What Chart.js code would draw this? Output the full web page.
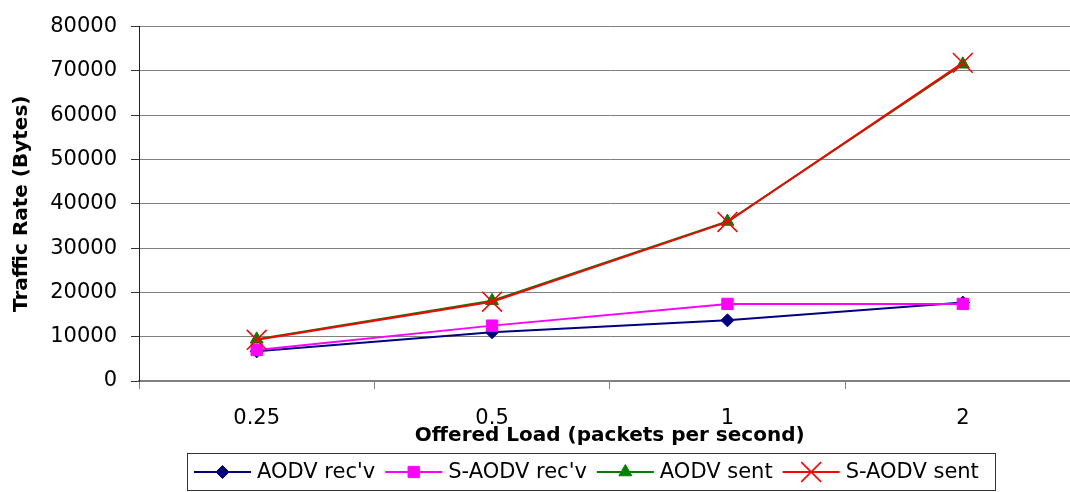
<!DOCTYPE html>
<html>
<head>
<meta charset="utf-8">
<script src="https://cdn.jsdelivr.net/npm/chart.js@4/dist/chart.umd.min.js"></script>
<style>
  html, body { margin: 0; padding: 0; background: #fff; overflow: hidden; }
  #wrap { width: 1096px; height: 492px; }
</style>
</head>
<body>
<div id="wrap"><canvas id="grafico" width="1096" height="492"></canvas></div>
<script>
// categorias e series
const cargas = ["0.25", "0.5", "1", "2"];
const aodvRecv = [6700, 11000, 13700, 17700];
const saodvRecv = [7000, 12500, 17400, 17400];
const aodvSent = [9400, 18100, 36000, 71500];
const saodvSent = [9300, 17900, 35900, 71800];
const nomes = ["AODV rec'v", "S-AODV rec'v", "AODV sent", "S-AODV sent"];

Chart.defaults.font.family = "'DejaVu Sans', sans-serif";
Chart.defaults.color = "#000";

// legenda desenhada no rodape, com linha + marcador
const legendaBox = {
  id: "legendaBox",
  afterDraw(chart) {
    const ctx = chart.ctx;
    ctx.save();
    ctx.strokeStyle = "#333";
    ctx.lineWidth = 1;
    ctx.strokeRect(187.5, 453.5, 808, 37);
    ctx.font = "21px 'DejaVu Sans'";
    ctx.textBaseline = "middle";
    let x = 194;
    const y = 472;
    chart.data.datasets.forEach(ds => {
      ctx.strokeStyle = ds.borderColor;
      ctx.lineWidth = 2;
      ctx.beginPath();
      ctx.moveTo(x, y);
      ctx.lineTo(x + 57, y);
      ctx.stroke();
      ctx.fillStyle = ds.pointBackgroundColor;
      ctx.strokeStyle = ds.pointBorderColor;
      ctx.lineWidth = ds.pointBorderWidth;
      Chart.helpers.drawPoint(ctx, {
        pointStyle: ds.pointStyle,
        radius: ds.pointRadius,
        rotation: 0,
        borderWidth: ds.pointBorderWidth
      }, x + 28.5, y);
      ctx.fillStyle = "#000";
      ctx.fillText(ds.label, x + 63, y + 1);
      x += 63 + ctx.measureText(ds.label).width + 10;
    });
    ctx.restore();
  }
};

const ctx = document.getElementById("grafico").getContext("2d");

new Chart(ctx, {
  type: "line",
  data: {
    labels: cargas,
    datasets: [
      {
        label: nomes[0], data: aodvRecv, order: 4,
        borderColor: "#000080", borderWidth: 2,
        pointStyle: "rectRot", pointRadius: 6.5,
        pointBackgroundColor: "#000080", pointBorderColor: "#000080", pointBorderWidth: 1
      },
      {
        label: nomes[1], data: saodvRecv, order: 3,
        borderColor: "#FF00FF", borderWidth: 2,
        pointStyle: "rect", pointRadius: 8,
        pointBackgroundColor: "#FF00FF", pointBorderColor: "#FF00FF", pointBorderWidth: 1
      },
      {
        label: nomes[2], data: aodvSent, order: 2,
        borderColor: "#008000", borderWidth: 2,
        pointStyle: "triangle", pointRadius: 7.5,
        pointBackgroundColor: "#008000", pointBorderColor: "#008000", pointBorderWidth: 1
      },
      {
        label: nomes[3], data: saodvSent, order: 1,
        borderColor: "#FF0000", borderWidth: 2,
        pointStyle: "crossRot", pointRadius: 14,
        pointBackgroundColor: "#FF0000", pointBorderColor: "#FF0000", pointBorderWidth: 1.5
      }
    ]
  },
  options: {
    responsive: false,
    animation: false,
    layout: { padding: { top: 22, right: 1, left: 0, bottom: 0 } },
    elements: { line: { tension: 0 } },
    plugins: {
      legend: { display: false },
      tooltip: { enabled: false }
    },
    scales: {
      x: {
        offset: true,
        grid: {
          display: true, drawOnChartArea: false, offset: true,
          tickLength: 8, tickColor: "#808080", lineWidth: 1
        },
        border: { color: "#808080", width: 1.5 },
        ticks: { font: { size: 21 }, padding: 17, maxRotation: 0 },
        title: {
          display: true,
          text: "Offered Load (packets per second)",
          font: { size: 20, weight: "bold" },
          padding: { top: 0, bottom: 44 }
        },
        afterFit(scale) { scale.height = 111; }
      },
      y: {
        min: 0,
        max: 80000,
        ticks: {
          stepSize: 10000, font: { size: 21 }, padding: 14,
          callback: (value) => String(value)
        },
        grid: { color: "#808080", lineWidth: 1, tickLength: 8, tickColor: "#333" },
        border: { color: "#222", width: 1 },
        title: {
          display: true,
          text: "Traffic Rate (Bytes)",
          font: { size: 20, weight: "bold" },
          padding: { top: 10, bottom: 0 }
        },
        afterFit(scale) { scale.width = 139; }
      }
    }
  },
  plugins: [legendaBox]
});
</script>
</body>
</html>
